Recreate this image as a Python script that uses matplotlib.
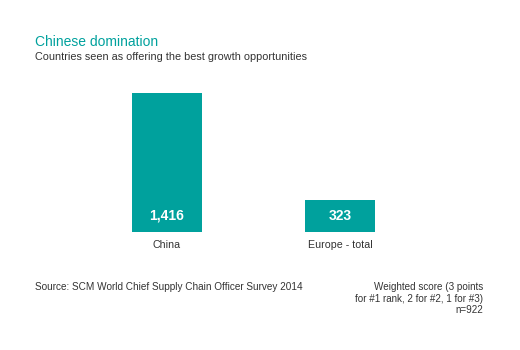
import matplotlib
matplotlib.use("Agg")
from matplotlib import pyplot as plt

categories = ["China", "Europe - total"]
scores = [1416, 323]
value_labels = ["1,416", "323"]

title = "Chinese domination"
subtitle = "Countries seen as offering the best growth opportunities"
source = "Source: SCM World Chief Supply Chain Officer Survey 2014"
note = "Weighted score (3 points\nfor #1 rank, 2 for #2, 1 for #3)\nn=922"

teal = "#00A19D"
grey = "#333333"

plt.rcParams["font.family"] = ["Liberation Sans", "DejaVu Sans"]

fig = plt.figure(figsize=(5.2, 3.5), dpi=100)
ax = fig.add_axes([80.5 / 520, 118 / 350, 346 / 520, 139 / 350])

x = list(range(len(categories)))
bars = ax.bar(x, scores, width=70 / 173, color=teal)
ax.set_xlim(-0.5, 1.5)
ax.set_ylim(0, max(scores))

for bar, lab in zip(bars, value_labels):
    ax.text(bar.get_x() + bar.get_width() / 2, 165, lab, ha="center", va="center",
            color="white", fontsize=10, fontweight="bold")

ax.set_xticks(x)
ax.set_xticklabels(categories, fontsize=7.7, color=grey)
ax.tick_params(axis="x", length=0, pad=6)
ax.set_yticks([])
for s in ax.spines.values():
    s.set_visible(False)

fig.text(35 / 520, 1 - 42 / 350, title, color=teal, fontsize=10, va="center", ha="left")
fig.text(35 / 520, 1 - 57 / 350, subtitle, color=grey, fontsize=7.85, va="center", ha="left")
fig.text(35 / 520, 1 - 287 / 350, source, color=grey, fontsize=7.2, va="center", ha="left")
fig.text(483 / 520, 1 - 282.5 / 350, note, color=grey, fontsize=7.1, va="top", ha="right",
         linespacing=1.17)

fig.savefig("out.png", dpi=100)
